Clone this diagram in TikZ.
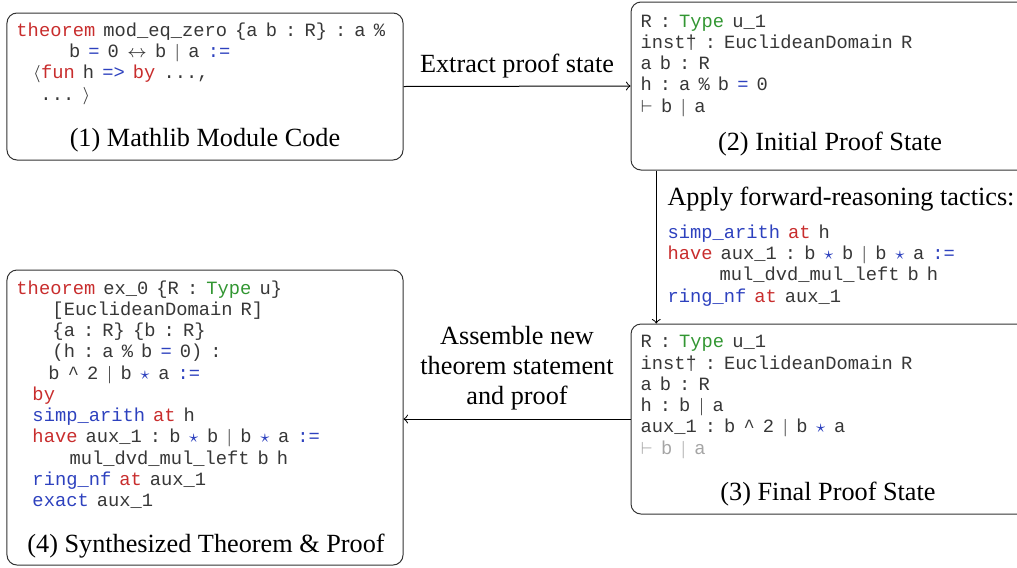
\documentclass[tikz,border=0pt]{standalone}
\usepackage{fontspec}
\setmainfont{Liberation Serif}
\setmonofont[WordSpace=0.72]{Liberation Mono}
\usetikzlibrary{calc,positioning}
\definecolor{kwred}{RGB}{200,45,45}
\definecolor{tacblue}{RGB}{45,65,190}
\definecolor{tygreen}{RGB}{50,150,50}
\definecolor{codegray}{RGB}{55,55,55}
\definecolor{goalgray}{RGB}{165,165,165}
\newcommand{\kw}[1]{\textcolor{kwred}{#1}}
\newcommand{\tac}[1]{\textcolor{tacblue}{#1}}
\newcommand{\ty}[1]{\textcolor{tygreen}{#1}}
\newcommand{\ind}[1]{\hspace*{#1pt}}
\newcommand{\dvd}{$|$}
\newcommand{\mul}{\tac{$\star$}}

\begin{document}
\begin{tikzpicture}[x=0.4pt,y=-0.4pt,
  box/.style={draw=black!80,rounded corners=4pt,inner sep=0pt},
  code/.style={anchor=base west,align=left,inner sep=0pt,text=codegray,font=\ttfamily\fontsize{7.5}{8.5}\selectfont},
  capt/.style={anchor=base,inner sep=0pt,font=\fontsize{10.5}{12}\selectfont}]
  \useasboundingbox (0,0) rectangle (1017,567);
  \clip (0,0) rectangle (1017,567);
  % the four boxes
  \node[box,minimum width=158.4pt,minimum height=58.8pt] (mod) at (205,86.5) {};
  \node[box,minimum width=159.6pt,minimum height=67.2pt] (init) at (830.5,86) {};
  \node[box,minimum width=159.6pt,minimum height=76pt] (fin) at (830.5,419) {};
  \node[box,minimum width=158.4pt,minimum height=118pt] (synth) at (205,417.5) {};
  % (1)  (code nodes sit on the baseline of their last line)
  \node[code] (modcode) at (16,100) {\kw{theorem} mod\_eq\_zero \{a b : R\} : a \%\\
    \ind{21}b \tac{=} 0 $\leftrightarrow$ b \dvd{} a \tac{:=}\\
    \ind{6.6}$\langle$\kw{fun} h \tac{=>} \kw{by} ...,\\
    \ind{9.6}... $\rangle$};
  \node[capt] (modcap) at (205,146) {(1) Mathlib Module Code};
  % (2)
  \node[code] (initcode) at (640,112) {R : \ty{Type} u\_1\\
    inst\textdagger{} : EuclideanDomain R\\
    a b : R\\
    h : a \% b \tac{=} 0\\
    $\vdash$ b \dvd{} a};
  \node[capt] (initcap) at (830,150) {(2) Initial Proof State};
  % (3)
  \node[code] (fincode) at (640,454) {R : \ty{Type} u\_1\\
    inst\textdagger{} : EuclideanDomain R\\
    a b : R\\
    h : b \dvd{} a\\
    aux\_1 : b \textasciicircum{} 2 \dvd{} b \mul{} a\\
    \textcolor{goalgray}{$\vdash$ b \dvd{} a}};
  \node[capt] (fincap) at (828,500) {(3) Final Proof State};
  % (4)
  \node[code] (synthcode) at (16,506.5) {\kw{theorem} ex\_0 \{R : \ty{Type} u\}\\
    \ind{14.4}[EuclideanDomain R]\\
    \ind{14.4}\{a : R\} \{b : R\}\\
    \ind{14.4}(h : a \% b \tac{=} 0) :\\
    \ind{12.8}b \textasciicircum{} 2 \dvd{} b \mul{} a \tac{:=}\\
    \ind{6.4}\kw{by}\\
    \ind{6.4}\tac{simp\_arith} \kw{at} h\\
    \ind{6.4}\kw{have} aux\_1 : b \mul{} b \dvd{} b \mul{} a \tac{:=}\\
    \ind{21.2}mul\_dvd\_mul\_left b h\\
    \ind{6.4}\tac{ring\_nf} \kw{at} aux\_1\\
    \ind{6.4}\tac{exact} aux\_1};
  \node[capt] (synthcap) at (206,552) {(4) Synthesized Theorem \& Proof};
  % arrows and their labels
  \draw[->] (mod.east) -- (init.west);
  \node[capt] (extract) at (517,72) {Extract proof state};
  \draw[->] ([xshift=10.3pt]init.south west) -- ([xshift=10.3pt]fin.north west);
  \node[capt,anchor=base west] (apply) at (667,205) {Apply forward-reasoning tactics:};
  \node[code] (tactics) at (667,302) {\tac{simp\_arith} \kw{at} h\\
    \kw{have} aux\_1 : b \mul{} b \dvd{} b \mul{} a \tac{:=}\\
    \ind{20.8}mul\_dvd\_mul\_left b h\\
    \tac{ring\_nf} \kw{at} aux\_1};
  \draw[->] (fin.west) -- (fin.west -| synth.east);
  \node[capt,align=center] (assemble) at (517,404) {Assemble new\\ theorem statement\\ and proof};
\end{tikzpicture}
\end{document}
